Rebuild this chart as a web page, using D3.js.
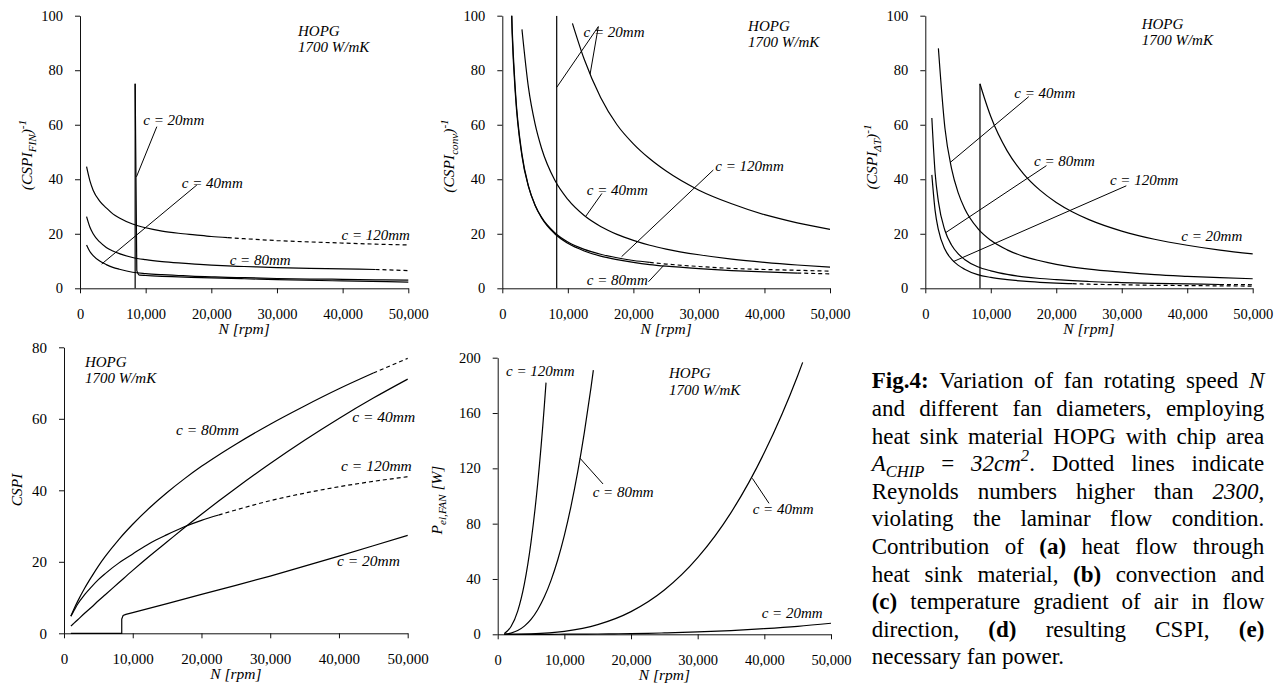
<!DOCTYPE html>
<html>
<head>
<meta charset="utf-8">
<script src="https://cdn.jsdelivr.net/npm/d3@7"></script>
<style>
  body { margin: 0; background: #fff; }
  text { font-family: "Liberation Serif", "Times New Roman", serif; fill: #000; }
</style>
</head>
<body>
<svg id="fig" width="1283" height="686"></svg>
<script>
// shared rpm grid
const rpm = [1000, 1500, 2000, 3000, 4000, 5000, 6000, 8000, 10000, 12500, 15000, 17500, 20000, 22500, 25000, 30000, 35000, 40000, 45000, 50000];
const xTicks = [0, 10000, 20000, 30000, 40000, 50000];

// (a) (CSPI_FIN)^-1
const fin120 = [44.6, 39.5, 36, 32, 29.5, 27.3, 25.8, 23.6, 22.2, 21, 20.2, 19.6, 19, 18.6, 18.2, 17.5, 17, 16.6, 16.2, 15.9];
const fin80 = [26.3, 22.5, 20, 17, 15, 13.7, 12.7, 11.3, 10.5, 9.8, 9.3, 8.9, 8.5, 8.2, 8, 7.6, 7.3, 7.1, 6.9, 6.5];
const fin40 = [15.9, 13.5, 12, 10, 8.7, 7.7, 7.0, 5.9, 5.4, 5.0, 4.7, 4.4, 4.2, 4.0, 3.9, 3.6, 3.4, 3.3, 3.1, 3.0];
const fin20Rpm = [8400, 8650, 9100, 10000, 12500, 15000, 20000, 25000, 30000, 40000, 50000];
const fin20 = [75, 6.5, 4.8, 4.7, 4.4, 4.2, 3.8, 3.5, 3.2, 2.7, 2.3];
const finLimit = [8400, 75];
const finLabels = [["c = 20mm", 9640, 59.9, "start"], ["c = 40mm", 15500, 36.8, "start"], ["c = 120mm", 50250, 17.7, "end"], ["c = 80mm", 22800, 8.7, "start"]];
const finLeaders = [[11700, 59.3, 8600, 40.9], [17800, 37.9, 3300, 8.9]];

// (b) (CSPI_conv)^-1
const conv120 = [138, 93.5, 71, 48.5, 37.2, 30.5, 26, 20.4, 17, 14.3, 12.5, 11.2, 10.2, 9.5, 8.9, 8.0, 7.3, 6.9, 6.6, 6.3];
const conv80 = [142, 95.8, 72.5, 49.2, 37.5, 30.5, 25.8, 20, 16.5, 13.7, 11.8, 10.5, 9.5, 8.7, 8.1, 7.2, 6.5, 6.0, 5.6, 5.3];
const conv40 = [null, null, null, 95, 73.5, 60.3, 51.3, 39.7, 32.6, 26.7, 22.7, 19.8, 17.6, 15.8, 14.4, 12.3, 10.7, 9.5, 8.55, 7.8];
const conv20Rpm = [10700, 12500, 15000, 17500, 20000, 22500, 25000, 30000, 35000, 40000, 45000, 50000];
const conv20 = [97.2, 84, 70, 60, 53, 47.5, 43, 36, 31, 27, 24, 21.6];
const convLimit = [8300, 100];
const convLabels = [["c = 20mm", 12400, 92.2, "start"], ["c = 40mm", 12900, 34.2, "start"], ["c = 120mm", 32500, 43.2, "start"], ["c = 80mm", 12900, 1.2, "start"]];
const convLeaders = [[14650, 96, 8300, 73.7], [14650, 96, 13400, 78.6], [15200, 34.8, 12700, 26.3], [32200, 43.4, 18200, 11.6], [22300, 2.4, 24600, 8.3]];

// (c) (CSPI_dT)^-1
const dt120 = [41.6, 28.5, 21.5, 14.3, 10.7, 8.5, 7.0, 5.0, 4.0, 3.2, 2.6, 2.2, 1.9, 1.7, 1.5, 1.3, 1.1, 1.0, 0.9, 0.8];
const dt80 = [62.5, 42.3, 31.8, 21.2, 15.9, 12.7, 10.6, 7.9, 6.4, 5.1, 4.2, 3.6, 3.2, 2.8, 2.5, 2.1, 1.8, 1.6, 1.4, 1.3];
const dt40 = [null, null, 88, 58.7, 44, 35.2, 29.3, 22, 17.6, 14.1, 11.7, 10.1, 8.8, 7.8, 7.0, 5.9, 5.0, 4.4, 3.9, 3.5];
const dt20Rpm = [8350, 9000, 10000, 12500, 15000, 17500, 20000, 22500, 25000, 30000, 35000, 40000, 45000, 50000];
const dt20 = [75, 70, 63, 50.4, 42, 36, 31.5, 28, 25.2, 21, 18, 15.8, 14, 12.6];
const dtLimit = [8350, 75];
const dtLabels = [["c = 40mm", 13600, 69.8, "start"], ["c = 80mm", 16600, 45, "start"], ["c = 120mm", 28200, 37.9, "start"], ["c = 20mm", 39100, 17.5, "start"]];
const dtLeaders = [[15800, 70.3, 3770, 46.1], [18500, 45, 3160, 20.5], [30700, 37.6, 4280, 9.8]];

// (d) CSPI
const cspi120 = [4.8, 6.5, 8.2, 10.8, 13, 15, 16.7, 19.7, 22.2, 25.2, 27.6, 29.8, 31.6, 33.1, 34.5, 37.1, 39.2, 41, 42.5, 43.8];
const cspi80 = [4.8, 7.0, 9.0, 12.6, 15.8, 18.8, 21.5, 26.3, 30.5, 35.2, 39.4, 43.2, 46.7, 49.9, 52.9, 58.5, 63.6, 68.4, 72.8, 76.9];
const cspi40 = [2.0, 2.9, 3.8, 5.6, 7.3, 9.1, 10.8, 14.2, 17.6, 21.7, 25.6, 29.5, 33.3, 37.0, 40.6, 47.5, 54.0, 60.1, 65.8, 71.1];
const cspi20Rpm = [1000, 8400, 8400, 8600, 9000, 10000, 15000, 20000, 25000, 30000, 35000, 40000, 45000, 50000];
const cspi20 = [0, 0, 4, 5, 5.3, 5.8, 8.3, 10.9, 13.4, 16, 18.8, 21.6, 24.5, 27.4];
const cspiLabels = [["c = 80mm", 16300, 55.5, "start"], ["c = 40mm", 51100, 59, "end"], ["c = 120mm", 50600, 45.4, "end"], ["c = 20mm", 39700, 18.8, "start"]];

// (e) fan power P_el,FAN [W]
const pow120Rpm = [1000, 2000, 3000, 4000, 5000, 6000, 7000, 7250];
const pow120 = [0.5, 5.6, 16.8, 36.5, 66.7, 109, 165.5, 182];
const pow80Rpm = [1000, 2000, 3000, 4000, 5000, 6000, 7000, 8000, 9000, 10000, 11000, 12000, 13000, 14000, 14350];
const pow80 = [0.1, 0.9, 2.7, 5.9, 10.8, 17.8, 27.1, 39, 53.7, 71.5, 92.7, 117.4, 146, 178.6, 191];
const pow40Rpm = [1000, 5000, 10000, 15000, 20000, 25000, 30000, 35000, 40000, 45000, 45750];
const pow40 = [0, 0.3, 2.1, 7, 16.4, 32, 55.4, 88, 131.4, 187, 196.6];
const pow20 = [0, 0, 0, 0, 0, 0, 0, 0, 0.1, 0.15, 0.2, 0.35, 0.5, 0.7, 1.0, 1.7, 2.7, 4.1, 5.8, 8];
const powLabels = [["c = 120mm", 1250, 187, "start"], ["c = 80mm", 14250, 99.6, "start"], ["c = 40mm", 38250, 87, "start"], ["c = 20mm", 39600, 11.8, "start"]];
const powLeaders = [[15800, 108.7, 12350, 127.3], [40700, 94.7, 38200, 112.8]];

const caption = [
  "{b:Fig.4:} Variation of fan rotating speed {i:N}",
  "and different fan diameters, employing",
  "heat sink material HOPG with chip area",
  "{i:A}{isub:CHIP} = {i:32cm}{isup:2}. Dotted lines indicate",
  "Reynolds numbers higher than {i:2300},",
  "violating the laminar flow condition.",
  "Contribution of {b:(a)} heat flow through",
  "heat sink material, {b:(b)} convection and",
  "{b:(c)} temperature gradient of air in flow",
  "direction, {b:(d)} resulting CSPI, {b:(e)}",
  "necessary fan power."
];

const svg = d3.select("#fig");
const flagMap = { i: ["i"], b: ["b"], isub: ["i", "sub"], isup: ["i", "sup"] };

// append tspans with italic/bold/sub/sup handling
function rich(text, segs, size) {
  let shift = 0;
  segs.forEach(([t, f]) => {
    let s = 0, fs = size;
    if (f.includes("sub")) { s = size * 0.25; fs = size * 0.72; }
    if (f.includes("sup")) { s = -size * 0.42; fs = size * 0.72; }
    const ts = text.append("tspan").text(t).attr("font-size", fs).attr("dy", s - shift);
    shift = s;
    if (f.includes("b")) ts.attr("font-weight", "bold");
    if (f.includes("i")) ts.attr("font-style", "italic");
  });
}

function drawPanel(p) {
  const x = d3.scaleLinear().domain([0, 50000]).range([p.left, p.right]);
  const y = d3.scaleLinear().domain([0, p.yMax]).range([p.bottom, p.top]);
  const g = svg.append("g");

  g.append("clipPath").attr("id", "clip" + p.id).append("rect")
    .attr("x", p.left).attr("y", p.top)
    .attr("width", p.right - p.left + 2).attr("height", p.bottom - p.top + 1);

  const xa = g.append("g").attr("transform", `translate(0,${p.bottom})`)
    .call(d3.axisBottom(x).tickValues(xTicks).tickFormat(d3.format(",")).tickSize(5).tickSizeOuter(0).tickPadding(15));
  const ya = g.append("g").attr("transform", `translate(${p.left},0)`)
    .call(d3.axisLeft(y).tickValues(d3.range(0, p.yMax + 1, p.yStep)).tickSize(5).tickSizeOuter(0).tickPadding(12));
  [xa, ya].forEach(a => {
    a.attr("font-family", null).attr("font-size", null);
    a.selectAll("text").attr("font-size", p.tickFont);
    a.selectAll("line,path").attr("stroke", "#111");
  });

  const plot = g.append("g").attr("clip-path", `url(#clip${p.id})`);
  p.series.forEach(s => {
    const pts = s.n.map((n, i) => [n, s.v[i]]);
    const line = d3.line().defined(d => d[1] != null)
      .x(d => x(d[0])).y(d => y(d[1]))
      .curve(s.linear ? d3.curveLinear : d3.curveMonotoneX);
    const parts = s.dashFrom
      ? [[pts.filter(d => d[0] <= s.dashFrom), null], [pts.filter(d => d[0] >= s.dashFrom), "4,3"]]
      : [[pts, null]];
    parts.forEach(([d, dash]) => {
      plot.append("path").datum(d).attr("d", line)
        .attr("fill", "none").attr("stroke", "#000").attr("stroke-width", 1.2)
        .attr("stroke-dasharray", dash);
    });
  });
  if (p.limit) {
    plot.append("line").attr("x1", x(p.limit[0])).attr("x2", x(p.limit[0]))
      .attr("y1", y(0)).attr("y2", y(p.limit[1])).attr("stroke", "#000").attr("stroke-width", 1.2);
  }
  (p.leaders || []).forEach(l => {
    g.append("line").attr("x1", x(l[0])).attr("y1", y(l[1])).attr("x2", x(l[2])).attr("y2", y(l[3]))
      .attr("stroke", "#000").attr("stroke-width", 1);
  });
  p.labels.forEach(l => {
    g.append("text").attr("x", x(l[1])).attr("y", y(l[2])).attr("text-anchor", l[3])
      .attr("font-style", "italic").attr("font-size", p.labelFont).text(l[0]);
  });

  const h = g.append("text").attr("font-style", "italic").attr("font-size", 15)
    .attr("x", x(p.hopg[0])).attr("y", y(p.hopg[1]));
  h.append("tspan").text("HOPG");
  h.append("tspan").attr("x", x(p.hopg[0])).attr("dy", 16.6).text("1700 W/mK");

  g.append("text").attr("x", (p.left + p.right) / 2).attr("y", p.bottom + 46)
    .attr("text-anchor", "middle").attr("font-style", "italic").attr("font-size", 15.5).text("N [rpm]");

  const yt = g.append("text").attr("text-anchor", "middle")
    .attr("transform", `translate(${p.yTitleX},${p.yTitleY}) rotate(-90)`);
  rich(yt, p.yTitle, 15.5);
}

const panels = [
  { id: "a", left: 80, right: 408.3, top: 15.7, bottom: 288.3, yMax: 100, yStep: 20, tickFont: 14.5, labelFont: 15,
    series: [{ n: rpm, v: fin120, dashFrom: 22500 }, { n: rpm, v: fin80, dashFrom: 45000 }, { n: rpm, v: fin40 }, { n: fin20Rpm, v: fin20 }],
    limit: finLimit, labels: finLabels, leaders: finLeaders, hopg: [33200, 92.6],
    yTitle: [["(CSPI", ["i"]], ["FIN", ["i", "sub"]], [")", ["i"]], ["-1", ["i", "sup"]]], yTitleX: 32, yTitleY: 155 },
  { id: "b", left: 502.3, right: 830, top: 15.7, bottom: 288.3, yMax: 100, yStep: 20, tickFont: 14.5, labelFont: 15,
    series: [{ n: rpm, v: conv120, dashFrom: 22500 }, { n: rpm, v: conv80, dashFrom: 45000 }, { n: rpm, v: conv40 }, { n: conv20Rpm, v: conv20 }],
    limit: convLimit, labels: convLabels, leaders: convLeaders, hopg: [37500, 94.5],
    yTitle: [["(CSPI", ["i"]], ["conv", ["i", "sub"]], [")", ["i"]], ["-1", ["i", "sup"]]], yTitleX: 454, yTitleY: 156 },
  { id: "c", left: 925.3, right: 1252.7, top: 15.7, bottom: 288.3, yMax: 100, yStep: 20, tickFont: 14.5, labelFont: 15,
    series: [{ n: rpm, v: dt120, dashFrom: 22500 }, { n: rpm, v: dt80, dashFrom: 45000 }, { n: rpm, v: dt40 }, { n: dt20Rpm, v: dt20 }],
    limit: dtLimit, labels: dtLabels, leaders: dtLeaders, hopg: [33050, 95.3],
    yTitle: [["(CSPI", ["i"]], ["ΔT", ["i", "sub"]], [")", ["i"]], ["-1", ["i", "sup"]]], yTitleX: 877, yTitleY: 157 },
  { id: "d", left: 64, right: 407.7, top: 347.3, bottom: 633.3, yMax: 80, yStep: 20, tickFont: 15, labelFont: 15.5,
    series: [{ n: rpm, v: cspi120, dashFrom: 22500 }, { n: rpm, v: cspi80, dashFrom: 45000 }, { n: rpm, v: cspi40 }, { n: cspi20Rpm, v: cspi20, linear: true }],
    labels: cspiLabels, hopg: [3050, 74.6],
    yTitle: [["CSPI", ["i"]]], yTitleX: 21.5, yTitleY: 490 },
  { id: "e", left: 497.7, right: 831, top: 357.7, bottom: 634.3, yMax: 200, yStep: 40, tickFont: 14.5, labelFont: 15,
    series: [{ n: pow120Rpm, v: pow120 }, { n: pow80Rpm, v: pow80 }, { n: pow40Rpm, v: pow40 }, { n: rpm, v: pow20 }],
    labels: powLabels, leaders: powLeaders, hopg: [25700, 185.3],
    yTitle: [["P", ["i"]], ["el,FAN", ["i", "sub"]], [" [W]", ["i"]]], yTitleX: 442, yTitleY: 500 }
];
panels.forEach(drawPanel);

// justified caption
const capLeft = 871.7, capRight = 1264.3, capTop = 388.3, capLead = 27.6, capSize = 23;
const capG = svg.append("g").attr("font-size", capSize);
caption.forEach((line, li) => {
  const words = line.split(" ").map(w => {
    const segs = [];
    w.replace(/\{(\w+):([^}]*)\}|([^{]+)/g, (m, k, t, plain) => {
      segs.push(plain != null ? [plain, []] : [t, flagMap[k]]);
      return m;
    });
    return segs;
  });
  const yb = capTop + li * capLead;
  const els = words.map(segs => {
    const t = capG.append("text").attr("y", yb);
    rich(t, segs, capSize);
    return t;
  });
  const widths = els.map(t => t.node().getComputedTextLength());
  const total = d3.sum(widths);
  const last = li === caption.length - 1;
  const gap = last ? capSize * 0.25 : (capRight - capLeft - total) / (els.length - 1);
  let cx = capLeft;
  els.forEach((t, i) => { t.attr("x", cx); cx += widths[i] + gap; });
});
</script>
</body>
</html>
